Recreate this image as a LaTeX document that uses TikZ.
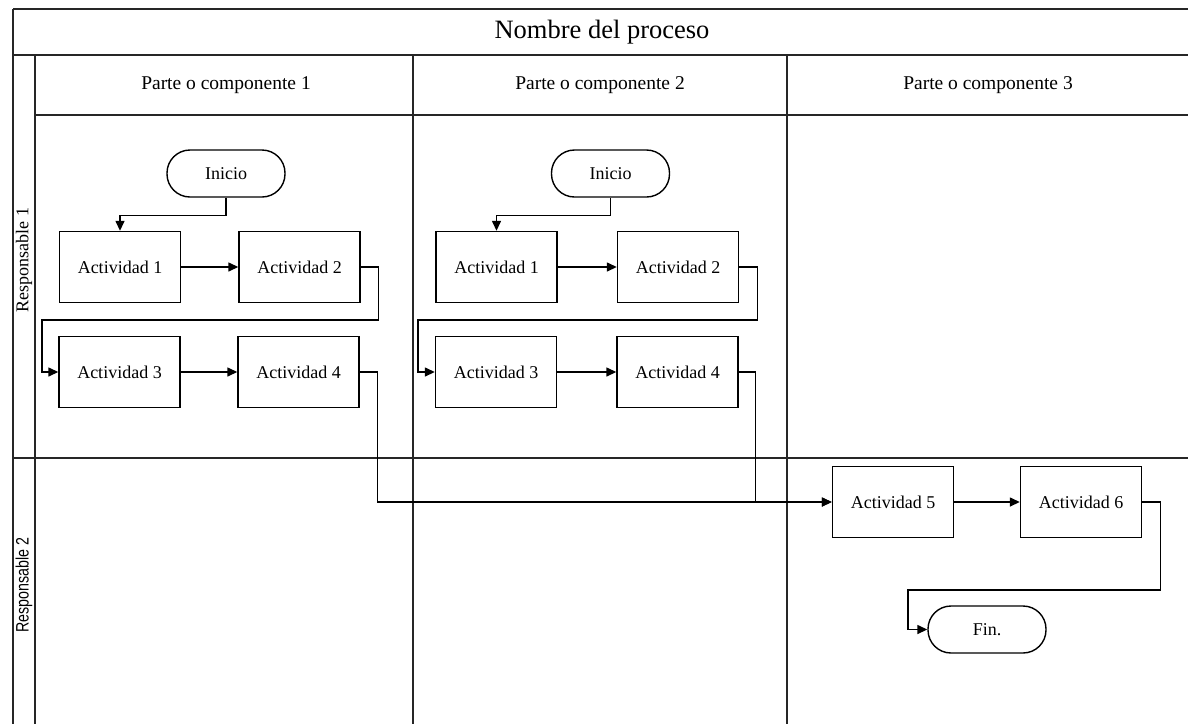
\documentclass[tikz,border=0pt]{standalone}
\usepackage{fontspec}
\setmainfont{Liberation Serif}
\newfontfamily\lsans{Liberation Sans}
\usetikzlibrary{arrows.meta}
\tikzset{
  frame/.style={line width=1.5pt, draw=black!85},
  act/.style={draw, line width=1.4pt, minimum width=121pt, minimum height=71pt, inner sep=0pt, font=\fontsize{18}{20}\selectfont},
  term/.style={draw, line width=1.4pt, minimum width=118pt, minimum height=47pt, rounded corners=23pt, inner sep=0pt, font=\fontsize{18}{20}\selectfont},
  arr/.style={line width=1.4pt, -{Triangle[length=10pt,width=9pt]}},
  hdr/.style={font=\fontsize{19.5}{22}\selectfont, inner sep=0pt},
}
\begin{document}
\begin{tikzpicture}[x=1pt,y=-1pt]
\useasboundingbox (0,0) rectangle (1188,724);
% frame
\draw[frame] (13,9) -- (1188,9);
\draw[frame] (13,9) -- (13,724);
\draw[frame] (13,55) -- (1188,55);
\draw[frame] (35,55) -- (35,724);
\draw[frame] (35,115) -- (1188,115);
\draw[frame] (413,55) -- (413,724);
\draw[frame] (787,55) -- (787,724);
\draw[frame] (13,458) -- (1188,458);
% titles
\node[inner sep=0pt, font=\fontsize{26.5}{30}\selectfont] (title) at (602,32) {Nombre del proceso};
\node[hdr] (h1) at (226,85) {Parte o componente 1};
\node[hdr] (h2) at (600,85) {Parte o componente 2};
\node[hdr] (h3) at (988,85) {Parte o componente 3};
\node[rotate=90, inner sep=0pt, font=\fontsize{18}{20}\selectfont] (r1) at (24,260) {Responsable 1};
\node[rotate=90, inner sep=0pt, font=\fontsize{18}{20}\lsans] (r2) at (24,585) {\scalebox{0.79}[1]{Responsable 2}};
% column 1
\node[term] (i1) at (226,173.5) {Inicio};
\node[act] (a1) at (120,267) {Actividad 1};
\node[act] (a2) at (299.5,267) {Actividad 2};
\node[act] (a3) at (119.5,372) {Actividad 3};
\node[act] (a4) at (298.5,372) {Actividad 4};
% column 2
\node[term] (i2) at (610.5,173.5) {Inicio};
\node[act] (b1) at (496.5,267) {Actividad 1};
\node[act] (b2) at (678,267) {Actividad 2};
\node[act] (b3) at (496,372) {Actividad 3};
\node[act] (b4) at (677.5,372) {Actividad 4};
% column 3
\node[act] (a5) at (893,502) {Actividad 5};
\node[act] (a6) at (1081,502) {Actividad 6};
\node[term] (fin) at (987,629.5) {Fin.};
% waypoints
\coordinate (w1) at (42,320);
\coordinate (w2) at (418,320);
\coordinate (w3) at (908,590);
% connectors column 1
\draw[arr] (i1.south) -- ++(0,18) -| (a1.north);
\draw[arr] (a1) -- (a2);
\draw[arr] (a2.east) -- ++(18,0) |- (w1) |- (a3.west);
\draw[arr] (a3) -- (a4);
\draw[arr] (a4.east) -- ++(18,0) |- (a5.west);
% connectors column 2
\draw[arr] (i2.south) -- ++(0,18) -| (b1.north);
\draw[arr] (b1) -- (b2);
\draw[arr] (b2.east) -- ++(18,0) |- (w2) |- (b3.west);
\draw[arr] (b3) -- (b4);
\draw[arr] (b4.east) -- ++(17,0) |- (a5.west);
% connectors column 3
\draw[arr] (a5) -- (a6);
\draw[arr] (a6.east) -- ++(18,0) |- (w3) |- (fin.west);
\end{tikzpicture}
\end{document}
